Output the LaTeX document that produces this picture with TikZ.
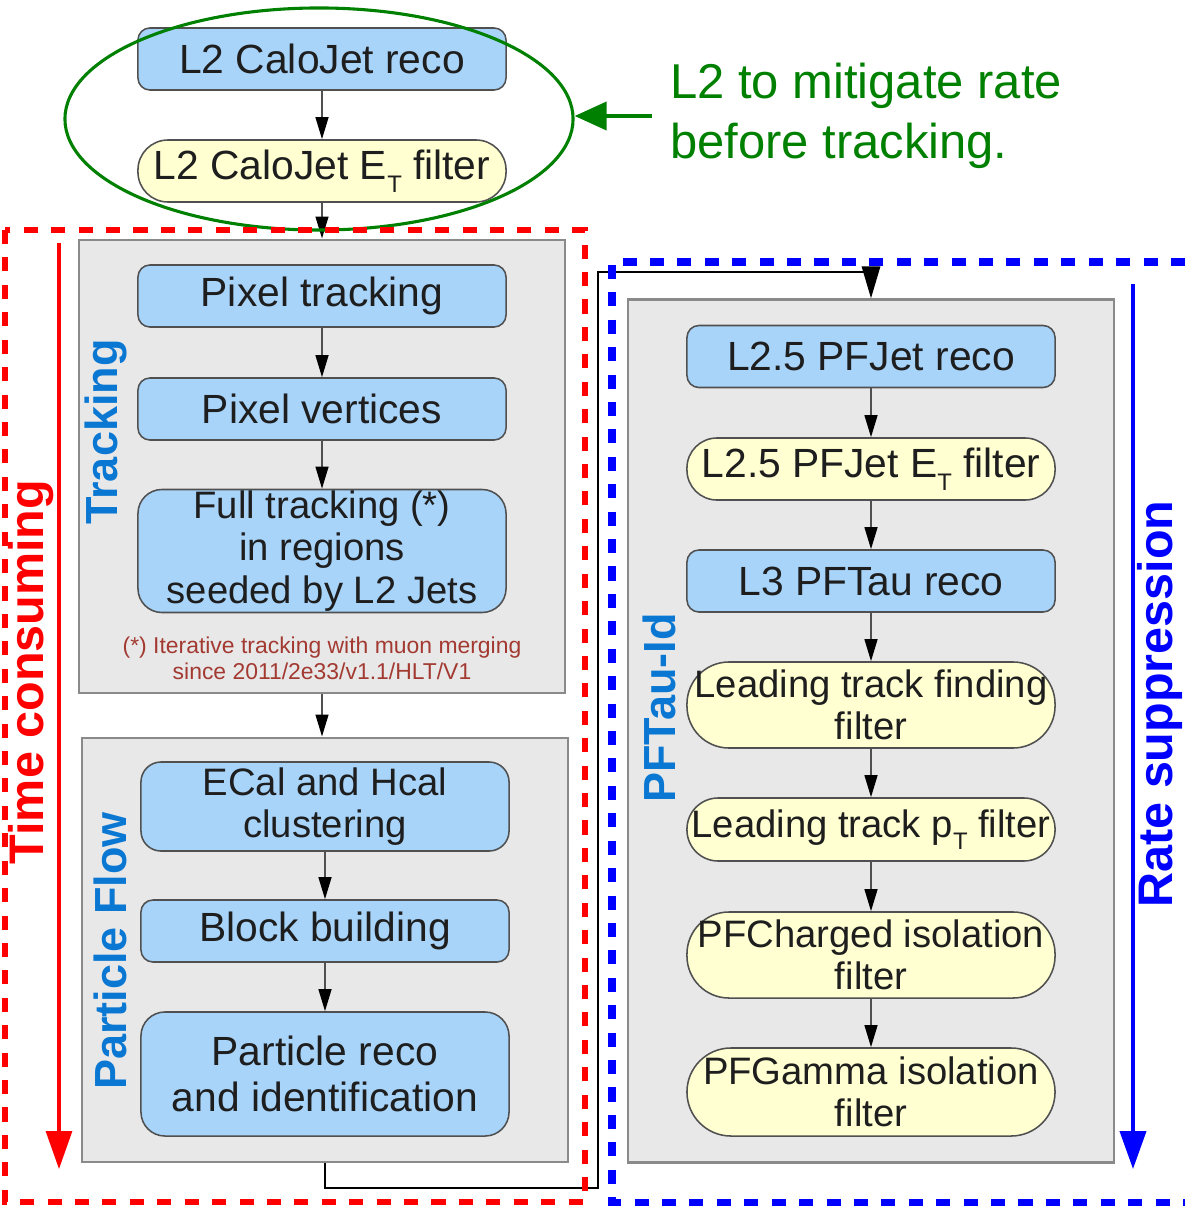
\documentclass[tikz,border=0pt]{standalone}
\usepackage{fontspec}
\setmainfont{Liberation Sans}
\usetikzlibrary{arrows.meta,shapes.geometric}
\definecolor{Ink}{HTML}{1E1E1E}
\definecolor{Edge}{HTML}{505050}
\definecolor{BoxBlue}{HTML}{A8D4FA}
\definecolor{BoxYellow}{HTML}{FFFFD2}
\definecolor{GroupFill}{HTML}{E8E8E8}
\definecolor{GroupLine}{HTML}{8A8A8A}
\definecolor{GroupText}{HTML}{0A78D2}
\definecolor{NoteRed}{HTML}{A33A32}
\definecolor{CutGreen}{HTML}{008000}
\definecolor{TimeRed}{HTML}{FF0000}
\definecolor{RateBlue}{HTML}{0000FF}
\newcommand{\lowT}{\raisebox{-0.32em}{\fontsize{17}{17}\selectfont T}}
\tikzset{
  flow/.style={draw=Edge,line width=1.1pt,inner sep=0pt,align=center,text=Ink,font=\fontsize{29}{30}\selectfont,minimum width=9.2cm,minimum height=1.55cm},
  flowblue/.style={flow,fill=BoxBlue,rounded corners=0.3cm},
  flowyellow/.style={flow,fill=BoxYellow,rounded corners=#1},
  flowyellow/.default=0.75cm,
  smalltext/.style={font=\fontsize{27.2}{30}\selectfont},
  group/.style={draw=GroupLine,line width=2pt,fill=GroupFill,minimum width=12.15cm,inner sep=0pt},
  grouplabel/.style={rotate=90,text=GroupText,font=\fontsize{32}{32}\selectfont\bfseries},
  sidelabel/.style={rotate=90,font=\fontsize{34.5}{34.5}\selectfont\bfseries},
  ring/.style={ellipse,draw=CutGreen,line width=2.2pt,minimum width=12.7cm,minimum height=5.55cm,inner sep=0pt},
  arrow/.style={-{Triangle[length=0.55cm,width=0.32cm,color=black]},line width=1.3pt,draw=Edge},
  link/.style={-{Triangle[length=0.8cm,width=0.45cm]},draw=black,line width=2.1pt},
  bigArrow/.style={-{Triangle[length=0.95cm,width=0.65cm]}},
  frame/.style={line width=4.8pt,dash pattern=on 10pt off 9.5pt}
}
\begin{document}
\begin{tikzpicture}[x=0.025cm,y=-0.025cm]
  \useasboundingbox (0,0) rectangle (1185,1209);

  \node[group,minimum height=11.325cm] (trkgroup) at (322,466.5) {};
  \node[group,minimum height=10.6cm] (pfgroup) at (325,950) {};
  \node[group,minimum height=21.55cm] (taugroup) at (871,731) {};
  \node[grouplabel] (trklabel) at (106,432) {Tracking};
  \node[grouplabel] (pflabel) at (110,951) {Particle Flow};
  \node[grouplabel] (taulabel) at (659,708) {PFTau-Id};

  \node[flowblue] (calo) at (322,59) {L2 CaloJet reco};
  \node[flowyellow] (calofilt) at (322,171) {L2 CaloJet E\lowT\ filter};
  \draw[arrow] (calo) -- (calofilt);
  \draw[arrow] (calofilt) -- (trkgroup);

  \node[flowblue] (pixtrk) at (322,296) {Pixel tracking};
  \node[flowblue] (pixvtx) at (322,409) {Pixel vertices};
  \node[flowblue,smalltext,minimum height=3.075cm,rounded corners=0.6cm] (fulltrk) at (322,551) {Full tracking (*)\\in regions\\seeded by L2 Jets};
  \node[font=\fontsize{16.3}{18.5}\selectfont,text=NoteRed,align=center] (trknote) at (322,658) {(*) Iterative tracking with muon merging\\since 2011/2e33/v1.1/HLT/V1};
  \draw[arrow] (pixtrk) -- (pixvtx);
  \draw[arrow] (pixvtx) -- (fulltrk);
  \draw[arrow] (trkgroup.south) -- (trkgroup.south |- pfgroup.north);

  \node[flowblue,smalltext,minimum height=2.225cm,rounded corners=0.5cm] (ecal) at (325,806.5) {ECal and Hcal\\clustering};
  \node[flowblue] (block) at (325,931) {Block building};
  \node[flowblue,minimum height=3.1cm,rounded corners=0.6cm,font=\fontsize{29}{33}\selectfont] (preco) at (325,1074) {Particle reco\\and identification};
  \draw[arrow] (ecal) -- (block);
  \draw[arrow] (block) -- (preco);

  \node[flowblue] (pfjet) at (871,356.5) {L2.5 PFJet reco};
  \node[flowyellow] (pfjetfilt) at (871,469) {L2.5 PFJet E\lowT\ filter};
  \node[flowblue] (pftau) at (871,581) {L3 PFTau reco};
  \node[flowyellow=1.05cm,smalltext,minimum height=2.15cm] (ltfind) at (871,705) {Leading track finding\\filter};
  \node[flowyellow=0.78cm,smalltext,minimum height=1.575cm] (ltpt) at (871,829.5) {Leading track p\lowT\ filter};
  \node[flowyellow=1.05cm,smalltext,minimum height=2.15cm] (chiso) at (871,955) {PFCharged isolation\\filter};
  \node[flowyellow=1.1cm,smalltext,minimum height=2.2cm] (gamiso) at (871,1092) {PFGamma isolation\\filter};
  \draw[arrow] (pfjet) -- (pfjetfilt);
  \draw[arrow] (pfjetfilt) -- (pftau);
  \draw[arrow] (pftau) -- (ltfind);
  \draw[arrow] (ltfind) -- (ltpt);
  \draw[arrow] (ltpt) -- (chiso);
  \draw[arrow] (chiso) -- (gamiso);

  \coordinate (bendlow) at (598,1188);
  \coordinate (bendhigh) at (598,272);
  \draw[link] (pfgroup.south) |- (bendlow) -- (bendhigh) -| (taugroup.north);

  \node[ring] (l2ring) at (319,119) {};
  \node[text=CutGreen,font=\fontsize{34.8}{42.7}\selectfont,align=left,anchor=west,inner xsep=0.45cm,inner ysep=0pt] (l2note) at (652,116) {L2 to mitigate rate\\before tracking.};
  \draw[draw=CutGreen,line width=2.8pt,-{Triangle[length=0.8cm,width=0.7cm]}] (l2note.west) -- (l2note.west -| l2ring.east);

  \draw[frame,draw=TimeRed] (5,230) rectangle (585,1202);
  \draw[frame,draw=RateBlue,line width=5pt] (1185,262) -| (612,1202) -- (1185,1202);

  \coordinate (timetop) at (59,243);
  \coordinate (timeend) at (59,1169);
  \draw[bigArrow,draw=TimeRed,line width=2.2pt] (timetop) -- (timeend);
  \node[sidelabel,text=TimeRed] (timelabel) at (31,672) {Time consuming};

  \coordinate (ratetop) at (1133,284);
  \coordinate (rateend) at (1133,1169);
  \draw[bigArrow,draw=RateBlue,line width=2.8pt] (ratetop) -- (rateend);
  \node[sidelabel,text=RateBlue] (ratelabel) at (1160,704) {Rate suppression};
\end{tikzpicture}
\end{document}
